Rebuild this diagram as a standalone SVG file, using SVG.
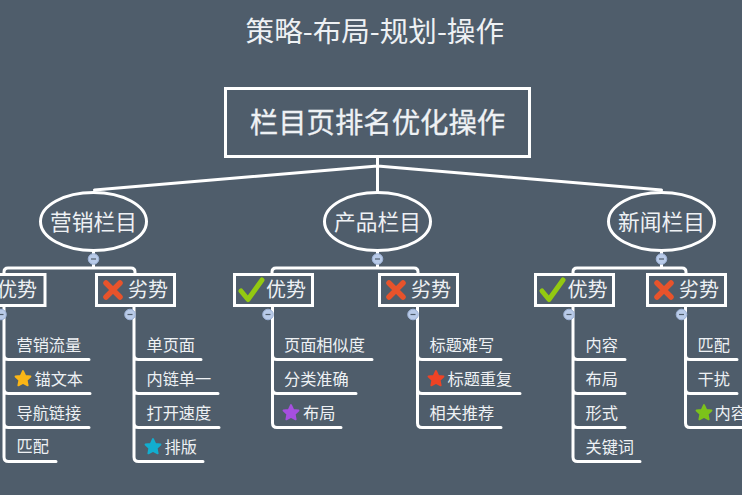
<svg xmlns="http://www.w3.org/2000/svg" width="742" height="495" viewBox="0 0 742 495">
<style>
text{font-family:"Noto Sans CJK SC","Noto Sans",sans-serif;fill:#eef1f4}
.title{font-size:28.6px;text-anchor:middle}
.root{font-size:28.4px;text-anchor:middle;stroke:#eef1f4;stroke-width:.3}
.cat{font-size:21.7px;text-anchor:middle}
.sub{font-size:20px}
.leaf{font-size:16.2px}
.box{fill:none;stroke:#fff;stroke-width:3}
.oval{fill:#4f5d6b;stroke:#fff;stroke-width:3}
.c{fill:none;stroke:#fff;stroke-width:3;stroke-linecap:round;stroke-linejoin:round}
.t{fill:#b9cbe9;stroke:#9db2d6;stroke-width:1}
.m{stroke:#4f5d6b;stroke-width:1.2}
</style>
<defs>
<g id="check"><path d="M-10 1 L-3 9.500 L11 -10" fill="none" stroke="#93c911" stroke-width="5" stroke-linecap="round" stroke-linejoin="round"/></g>
<g id="cross"><path d="M-7 -7 L7 7 M7 -7 L-7 7" fill="none" stroke="#e8532b" stroke-width="5.500" stroke-linecap="round"/></g>
<path id="star" d="M0 -7.500 L2.300 -2.700 L7.500 -2 L3.700 1.700 L4.700 6.900 L0 4.400 L-4.700 6.900 L-3.700 1.700 L-7.500 -2 L-2.300 -2.700 Z" stroke-width="1.800" stroke-linejoin="round"/>
<g id="tog"><circle class="t" r="5.300"/><path class="m" d="M-2.500 0H2.500"/></g>
</defs>
<rect width="742" height="495" fill="#4f5d6b"/>
<text id="title" class="title" x="374.800" y="42">策略-布局-规划-操作</text>
<g id="connectors">
<path class="c" d="M377.500 158V192M94.500 190L377.500 166L661.500 190"/>
<path class="c" d="M93.500 250V268M4 273V272Q4 268 8 268H131Q135 268 135 272V273"/>
<path class="c" d="M377.500 250V268M272 273V272Q272 268 276 268H414Q418 268 418 272V273"/>
<path class="c" d="M661.500 250V268M573 273V272Q573 268 577 268H682Q686 268 686 272V273"/>
<path class="c" d="M4 307V457Q4 461.500 8.500 461.500H56M4 355Q4 359.500 8.500 359.500H89M4 389Q4 393.500 8.500 393.500H90M4 423Q4 427.500 8.500 427.500H89"/>
<path class="c" d="M134 307V457Q134 461.500 138.500 461.500H203M134 355Q134 359.500 138.500 359.500H201M134 389Q134 393.500 138.500 393.500H218M134 423Q134 427.500 138.500 427.500H219"/>
<path class="c" d="M272.500 307V423Q272.500 427.500 277 427.500H341M272.500 355Q272.500 359.500 277 359.500H372M272.500 389Q272.500 393.500 277 393.500H356"/>
<path class="c" d="M417.500 307V423Q417.500 427.500 422 427.500H501M417.500 355Q417.500 359.500 422 359.500H501M417.500 389Q417.500 393.500 422 393.500H520"/>
<path class="c" d="M573 307V457Q573 461.500 577.500 461.500H640M573 355Q573 359.500 577.500 359.500H625M573 389Q573 393.500 577.500 393.500H625M573 423Q573 427.500 577.500 427.500H625"/>
<path class="c" d="M685.500 307V423Q685.500 427.500 690 427.500H745M685.500 355Q685.500 359.500 690 359.500H737M685.500 389Q685.500 393.500 690 393.500H737"/>
</g>
<g id="toggles">
<use href="#tog" x="93.500" y="259"/><use href="#tog" x="377.500" y="259"/><use href="#tog" x="661.500" y="259"/>
<use href="#tog" x="1" y="314.500"/><use href="#tog" x="130" y="314.500"/><use href="#tog" x="268" y="314.500"/><use href="#tog" x="413" y="314.500"/><use href="#tog" x="569" y="314.500"/><use href="#tog" x="681.500" y="314.500"/>
</g>
<g id="root"><rect class="box" x="225.500" y="88.500" width="304" height="68"/><text class="root" x="377.500" y="133">栏目页排名优化操作</text></g>
<g id="cat1"><ellipse class="oval" cx="93.500" cy="221.500" rx="53" ry="29"/><text class="cat" x="93.500" y="229.500">营销栏目</text></g>
<g id="cat2"><ellipse class="oval" cx="377.500" cy="221.500" rx="53" ry="29"/><text class="cat" x="377.500" y="229.500">产品栏目</text></g>
<g id="cat3"><ellipse class="oval" cx="661.500" cy="221.500" rx="53" ry="29"/><text class="cat" x="661.500" y="229.500">新闻栏目</text></g>
<g id="pro1"><rect class="box" x="-35" y="274.500" width="80" height="31"/><text class="sub" x="-3" y="297">优势</text></g>
<g id="con1"><rect class="box" x="96.500" y="274.500" width="78" height="31"/><use href="#cross" x="113" y="290"/><text class="sub" x="128" y="297">劣势</text></g>
<g id="pro2"><rect class="box" x="234.500" y="274.500" width="78" height="31"/><use href="#check" x="251" y="290"/><text class="sub" x="266" y="297">优势</text></g>
<g id="con2"><rect class="box" x="379.500" y="274.500" width="78" height="31"/><use href="#cross" x="396" y="290"/><text class="sub" x="411" y="297">劣势</text></g>
<g id="pro3"><rect class="box" x="535.500" y="274.500" width="78" height="31"/><use href="#check" x="552" y="290"/><text class="sub" x="567.500" y="297">优势</text></g>
<g id="con3"><rect class="box" x="647.500" y="274.500" width="78" height="31"/><use href="#cross" x="664" y="290"/><text class="sub" x="679" y="297">劣势</text></g>
<g id="l1"><text class="leaf" x="16.500" y="351">营销流量</text></g>
<g id="l2"><use href="#star" x="23" y="378.500" fill="#fbb616" stroke="#fbb616"/><text class="leaf" x="34.500" y="385">锚文本</text></g>
<g id="l3"><text class="leaf" x="16.500" y="419">导航链接</text></g>
<g id="l4"><text class="leaf" x="16.500" y="452">匹配</text></g>
<g id="l5"><text class="leaf" x="146.500" y="351">单页面</text></g>
<g id="l6"><text class="leaf" x="146.500" y="385">内链单一</text></g>
<g id="l7"><text class="leaf" x="146.500" y="419">打开速度</text></g>
<g id="l8"><use href="#star" x="153" y="446.500" fill="#12aed0" stroke="#12aed0"/><text class="leaf" x="164.500" y="453">排版</text></g>
<g id="l9"><text class="leaf" x="284" y="351">页面相似度</text></g>
<g id="l10"><text class="leaf" x="284" y="385">分类准确</text></g>
<g id="l11"><use href="#star" x="291" y="412.500" fill="#a64fe0" stroke="#a64fe0"/><text class="leaf" x="303" y="419">布局</text></g>
<g id="l12"><text class="leaf" x="429.500" y="351">标题难写</text></g>
<g id="l13"><use href="#star" x="436" y="378.500" fill="#ee4325" stroke="#ee4325"/><text class="leaf" x="447.500" y="385">标题重复</text></g>
<g id="l14"><text class="leaf" x="429.500" y="419">相关推荐</text></g>
<g id="l15"><text class="leaf" x="585.500" y="351">内容</text></g>
<g id="l16"><text class="leaf" x="585.500" y="385">布局</text></g>
<g id="l17"><text class="leaf" x="585.500" y="419">形式</text></g>
<g id="l18"><text class="leaf" x="585.500" y="453">关键词</text></g>
<g id="l19"><text class="leaf" x="697.500" y="351">匹配</text></g>
<g id="l20"><text class="leaf" x="697.500" y="385">干扰</text></g>
<g id="l21"><use href="#star" x="704" y="412.500" fill="#7cc21b" stroke="#7cc21b"/><text class="leaf" x="714.500" y="419">内容</text></g>
</svg>
